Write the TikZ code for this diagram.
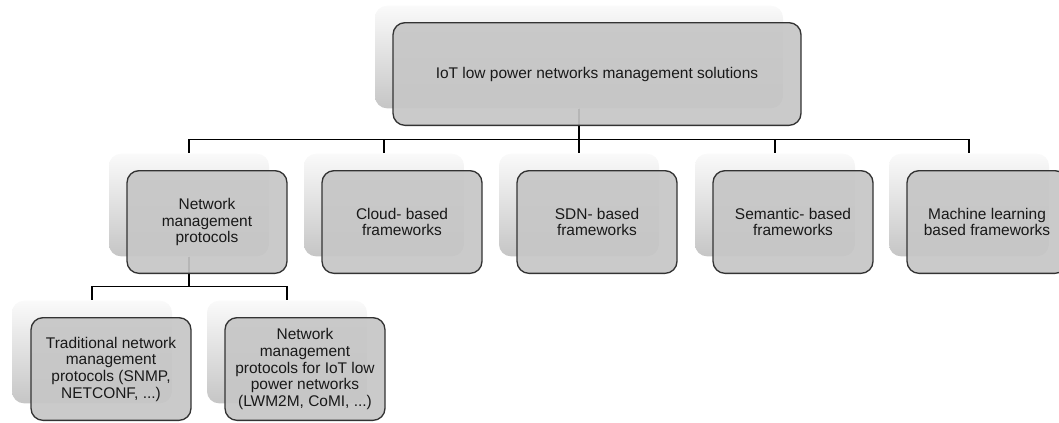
\documentclass[tikz,border=0pt]{standalone}
\usepackage{fontspec}
\setmainfont{Liberation Sans}
\usepackage{tikz}

\tikzset{
  shadowbox/.style={rounded corners=9pt, top color=gray!4, bottom color=gray!45, minimum width=120pt, minimum height=77pt, inner sep=0pt},
  frontbox/.style={draw=black!80, line width=1pt, rounded corners=9pt, fill=gray!45, fill opacity=0.92, text opacity=1, text=black!90, minimum width=120pt, minimum height=77pt, inner sep=2pt, align=center, font=\fontsize{11.6}{12.5}\selectfont},
  link/.style={draw=black, line width=0.8pt}
}

\begin{document}
\begin{tikzpicture}[x=0.75pt,y=0.75pt,yscale=-1,xscale=1]
        \clip (0,0) rectangle (1059,422);

        \node [shadowbox, minimum width=306pt] (rootshadow) at (579,57) {};
        \node [shadowbox] (nmpshadow) at (189,205) {};
        \node [shadowbox] (cloudshadow) at (384,205) {};
        \node [shadowbox] (sdnshadow) at (579,205) {};
        \node [shadowbox] (semshadow) at (775,205) {};
        \node [shadowbox] (mlshadow) at (969,205) {};
        \node [shadowbox] (tradshadow) at (92,352) {};
        \node [shadowbox] (iotshadow) at (287,352) {};

        \draw [link] (rootshadow.south) -- ++(0,31) -| (nmpshadow.north);
        \draw [link] (rootshadow.south) -- ++(0,31) -| (cloudshadow.north);
        \draw [link] (rootshadow.south) -- ++(0,31) -| (sdnshadow.north);
        \draw [link] (rootshadow.south) -- ++(0,31) -| (semshadow.north);
        \draw [link] (rootshadow.south) -- ++(0,31) -| (mlshadow.north);
        \draw [link] (nmpshadow.south) -- ++(0,30) -| (tradshadow.north);
        \draw [link] (nmpshadow.south) -- ++(0,30) -| (iotshadow.north);

        \node [frontbox, minimum width=306pt] (root) at (597,74) {IoT low power networks management solutions};
        \node [frontbox] (nmp) at (207,222) {Network\\management\\protocols};
        \node [frontbox] (cloud) at (402,222) {Cloud- based\\frameworks};
        \node [frontbox] (sdn) at (597,222) {SDN- based\\frameworks};
        \node [frontbox] (sem) at (793,222) {Semantic- based\\frameworks};
        \node [frontbox] (ml) at (987,222) {Machine learning\\based frameworks};
        \node [frontbox] (trad) at (111,369) {Traditional network\\management\\protocols (SNMP,\\NETCONF, ...)};
        \node [frontbox] (iot) at (305,369) {Network\\management\\protocols for IoT low\\power networks\\(LWM2M, CoMI, ...)};

    \end{tikzpicture}
\end{document}
